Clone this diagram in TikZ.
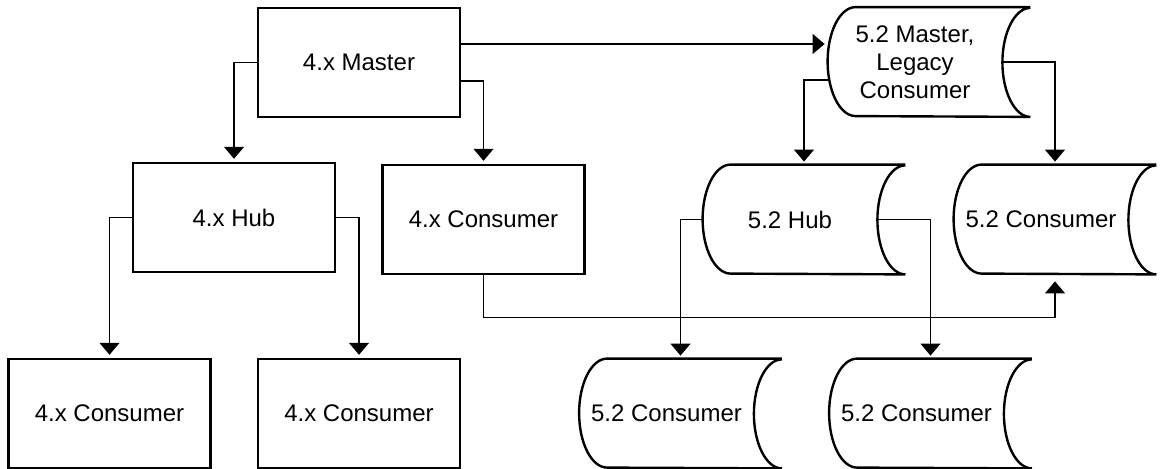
\documentclass[tikz,border=0pt]{standalone}
\usepackage{fontspec}
\setmainfont{Liberation Sans}
\usetikzlibrary{arrows.meta}

\begin{document}
\begin{tikzpicture}
    \def\dx{0.5pt}
    \def\dy{0.5pt}
    \def\arcw{14pt}
    \def\arch{27.25pt}
    \def\padtext#1{\hbox{#1\kern14pt}}

    \useasboundingbox (0,0) rectangle (1161*\dx,-469*\dy);

    \tikzstyle{box}=[draw=black,line width=1.2pt,minimum width=101pt,minimum height=54.5pt,inner sep=0pt,font=\fontsize{12}{14}\selectfont]
    \tikzstyle{store}=[minimum width=101pt,minimum height=54.5pt,inner sep=0pt,align=center,font=\fontsize{12}{14}\selectfont]
    \tikzstyle{storeline}=[draw=black,line width=1.2pt]

    % outline of a stored data shape round a node
    \def\storeshape#1{\draw[storeline] (#1.north east) -- ([xshift=\arcw]#1.north west) arc[start angle=90,end angle=270,x radius=\arcw,y radius=\arch] -- (#1.south east) arc[start angle=270,end angle=90,x radius=\arcw,y radius=\arch];}

    \node[box]   (m4)   at (359*\dx,-62.5*\dy)    {4.x Master};
    \node[box]   (hub4) at (234*\dx,-217.5*\dy)   {4.x Hub};
    \node[box]   (c4)   at (483.5*\dx,-219.5*\dy) {4.x Consumer};
    \node[box]   (c4l)  at (109.5*\dx,-413.5*\dy) {4.x Consumer};
    \node[box]   (c4r)  at (359*\dx,-413.5*\dy)   {4.x Consumer};
    \node[store] (m5)   at (929*\dx,-62*\dy)      {\padtext{5.2 Master,}\\ \padtext{Legacy}\\ \padtext{Consumer}};
    \node[store] (hub5) at (804*\dx,-219.5*\dy)   {\padtext{5.2 Hub}};
    \node[store] (c5)   at (1055*\dx,-219.5*\dy)  {\padtext{5.2 Consumer}};
    \node[store] (c5l)  at (680.5*\dx,-413.5*\dy) {\padtext{5.2 Consumer}};
    \node[store] (c5r)  at (930.5*\dx,-413.5*\dy) {\padtext{5.2 Consumer}};

    \storeshape{m5}
    \storeshape{hub5}
    \storeshape{c5}
    \storeshape{c5l}
    \storeshape{c5r}

    \tikzstyle{fwd}=[draw=black,line width=0.6pt,-{Triangle[width=10pt,length=6pt]},shorten >=1.5pt]

          \draw [fwd] ([yshift=9.25pt]m4.east) -- ([yshift=9.25pt]m4.east -| m5.west);
          \draw [fwd] (m4.west) -| (hub4.north);
          \draw [fwd] ([yshift=-9.25pt]m4.east) -| (c4.north);
          \draw [fwd] (hub4.west) -| (c4l.north);
          \draw [fwd] (hub4.east) -| (c4r.north);
          \draw [fwd,shorten >=3.5pt] (c4.south) -- ++(0,-21pt) -| (c5.south);
          \draw [fwd] ([yshift=-9pt]m5.west) -| (hub5.north);
          \draw [fwd] ([xshift=-\arcw]m5.east) -| (c5.north);
          \draw [fwd] (hub5.west) -| (c5l.north);
          \draw [fwd] ([xshift=-\arcw]hub5.east) -| (c5r.north);

  \end{tikzpicture}
\end{document}
